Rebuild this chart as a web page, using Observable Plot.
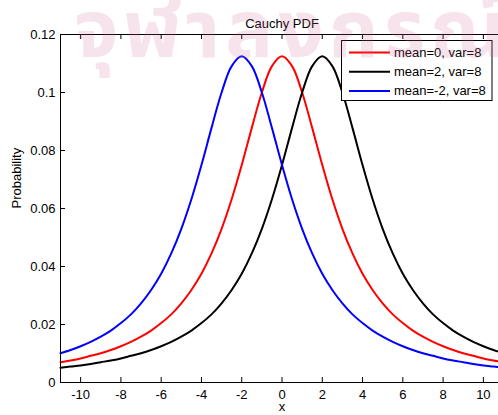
<!DOCTYPE html>
<html>
<head>
<meta charset="utf-8">
<script src="https://cdn.jsdelivr.net/npm/d3@7"></script>
<script src="https://cdn.jsdelivr.net/npm/@observablehq/plot@0.6"></script>
<style>
  html, body { margin: 0; padding: 0; background: #fff; overflow: hidden; }
  #chart svg { max-width: none !important; width: 504px !important; height: 415px !important; display: block; }
</style>
</head>
<body>
<div id="chart"></div>
<script>
const xValues = [-11,-10.5,-10,-9.5,-9,-8.5,-8,-7.5,-7,-6.5,-6,-5.5,-5,-4.5,-4,-3.5,-3,-2.5,-2,-1.5,-1,-0.5,0,0.5,1,1.5,2,2.5,3,3.5,4,4.5,5,5.5,6,6.5,7,7.5,8,8.5,9,9.5,10,10.5,11];
const redValues = [0.0070,0.0076,0.0083,0.0092,0.0101,0.0112,0.0125,0.0140,0.0158,0.0179,0.0205,0.0235,0.0273,0.0319,0.0375,0.0445,0.0530,0.0632,0.0750,0.0878,0.1000,0.1091,0.1125,0.1091,0.1000,0.0878,0.0750,0.0632,0.0530,0.0445,0.0375,0.0319,0.0273,0.0235,0.0205,0.0179,0.0158,0.0140,0.0125,0.0112,0.0101,0.0092,0.0083,0.0076,0.0070];
const blueValues = [0.0101,0.0112,0.0125,0.0140,0.0158,0.0179,0.0205,0.0235,0.0273,0.0319,0.0375,0.0445,0.0530,0.0632,0.0750,0.0878,0.1000,0.1091,0.1125,0.1091,0.1000,0.0878,0.0750,0.0632,0.0530,0.0445,0.0375,0.0319,0.0273,0.0235,0.0205,0.0179,0.0158,0.0140,0.0125,0.0112,0.0101,0.0092,0.0083,0.0076,0.0070,0.0064,0.0059,0.0055,0.0051];
const blackValues = [0.0051,0.0055,0.0059,0.0064,0.0070,0.0076,0.0083,0.0092,0.0101,0.0112,0.0125,0.0140,0.0158,0.0179,0.0205,0.0235,0.0273,0.0319,0.0375,0.0445,0.0530,0.0632,0.0750,0.0878,0.1000,0.1091,0.1125,0.1091,0.1000,0.0878,0.0750,0.0632,0.0530,0.0445,0.0375,0.0319,0.0273,0.0235,0.0205,0.0179,0.0158,0.0140,0.0125,0.0112,0.0101];
const seriesLabels = ["mean=0, var=8", "mean=2, var=8", "mean=-2, var=8"];
const seriesColors = ["#ff0000", "#000000", "#0000ff"];
const xTicks = [-10,-8,-6,-4,-2,0,2,4,6,8,10];
const yTicks = [0,0.02,0.04,0.06,0.08,0.1,0.12];
const titleText = "Cauchy PDF";
const xLabel = "x";
const yLabel = "Probability";
const watermarkText = "จุฬาลงกรณ์มหาวิทยาลัย";

const seriesValues = [redValues, blackValues, blueValues];
const rows = [];
seriesValues.forEach((vals, i) => {
  vals.forEach((v, j) => rows.push({series: seriesLabels[i], x: xValues[j], y: v}));
});

const W = 504, H = 415, mL = 60, mR = 1, mT = 34, mB = 33;
const innerW = W - mL - mR, innerH = H - mT - mB;
const tickLen = 5;

const chart = Plot.plot({
  width: W, height: H,
  marginLeft: mL, marginRight: mR, marginTop: mT, marginBottom: mB,
  style: {fontFamily: "'Liberation Sans', Arial, sans-serif", fontSize: "13px", background: "#fff", color: "#000", overflow: "visible"},
  x: {domain: [-11, 11]},
  y: {domain: [0, 0.12]},
  color: {domain: seriesLabels, range: seriesColors},
  marks: [
    Plot.line(rows, {x: "x", y: "y", z: "series", stroke: "series", strokeWidth: 2, curve: "catmull-rom"}),
    Plot.ruleX(xTicks, {x: d => d, insetTop: innerH - tickLen, stroke: "#000"}),
    Plot.ruleX(xTicks, {x: d => d, insetBottom: innerH - tickLen, stroke: "#000"}),
    Plot.ruleY(yTicks, {y: d => d, insetRight: innerW - tickLen, stroke: "#000"}),
    Plot.ruleY(yTicks, {y: d => d, insetLeft: innerW - tickLen, stroke: "#000"}),
    Plot.frame({stroke: "#000", strokeWidth: 1}),
    Plot.axisX(xTicks, {tickSize: 0, tickPadding: 7, tickFormat: d => String(d), label: null, fill: "#000"}),
    Plot.axisY(yTicks, {tickSize: 0, tickPadding: 5, tickFormat: d => String(d), label: null, fill: "#000"}),
    Plot.text([titleText], {text: d => d, frameAnchor: "top", dy: -16, fill: "#000", fontSize: 13}),
    Plot.text([xLabel], {text: d => d, frameAnchor: "bottom", dy: 28, fill: "#000", fontSize: 13}),
    Plot.text([yLabel], {text: d => d, frameAnchor: "left", dx: -44, rotate: -90, fill: "#000", fontSize: 13})
  ]
});
document.getElementById("chart").appendChild(chart);

// legend box (layout in pixels)
const svg = d3.select(chart);
const lg = svg.append("g")
  .attr("font-family", "'Liberation Sans', Arial, sans-serif")
  .attr("font-size", 13)
  .attr("text-anchor", "start");
lg.append("rect").attr("x", 341.5).attr("y", 40.5).attr("width", 150.5).attr("height", 60)
  .attr("fill", "#fff").attr("stroke", "#000").attr("stroke-width", 1);
seriesLabels.forEach((lab, i) => {
  const yy = 52.5 + i * 19.2;
  lg.append("line").attr("x1", 349).attr("x2", 390).attr("y1", yy).attr("y2", yy)
    .attr("stroke", seriesColors[i]).attr("stroke-width", 2);
  lg.append("text").attr("x", 394).attr("y", yy).attr("dy", "0.35em").attr("fill", "#000").text(lab);
});

// faint watermark overlaid on top
svg.append("text").attr("x", 74).attr("y", 57)
  .attr("text-anchor", "start")
  .attr("font-family", "'Noto Sans Thai', 'Noto Sans', 'DejaVu Sans', sans-serif")
  .attr("font-size", 80).attr("font-weight", "bold")
  .attr("letter-spacing", 5)
  .attr("fill", "#d4679a").attr("opacity", 0.18)
  .text(watermarkText);
</script>
</body>
</html>
